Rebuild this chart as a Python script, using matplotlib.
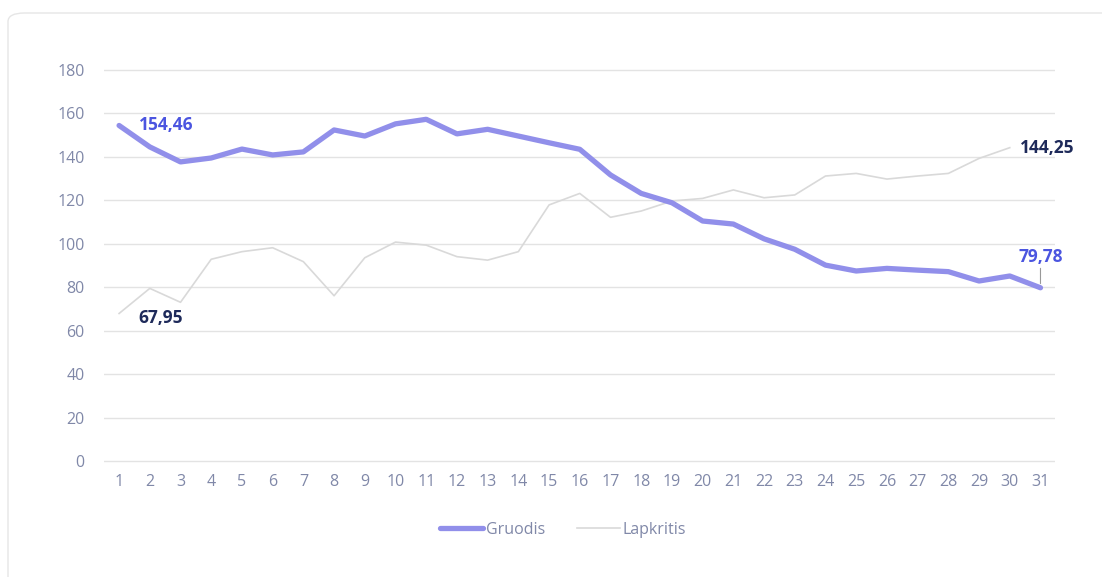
import matplotlib.pyplot as plt
from matplotlib.patches import FancyBboxPatch

plt.rcParams['font.family'] = ['Open Sans', 'DejaVu Sans']

dienos = list(range(1, 32))
gruodis = [154.46, 144.6, 137.7, 139.5, 143.6, 140.9, 142.3, 152.4, 149.6, 155.2,
           157.3, 150.6, 152.7, 149.6, 146.5, 143.5, 131.7, 123.2, 118.9, 110.5,
           109.1, 102.3, 97.5, 90.2, 87.5, 88.7, 87.9, 87.2, 82.9, 85.2, 79.78]
lapkritis = [67.95, 79.5, 73.1, 92.9, 96.4, 98.2, 91.8, 76.1, 93.6, 100.8,
             99.4, 94.1, 92.5, 96.4, 117.9, 123.2, 112.2, 115.1, 119.7, 120.9,
             124.8, 121.2, 122.5, 131.2, 132.4, 129.8, 131.2, 132.4, 139.3, 144.25]
y_ticks = [0, 20, 40, 60, 80, 100, 120, 140, 160, 180]

c_gruodis = '#918fea'
c_lapkritis = '#d9d9d9'
c_blue = '#4b55e0'
c_navy = '#1e2a5a'
c_tick = '#8088a8'

fig = plt.figure(figsize=(11.02, 5.77), dpi=100)

# kortelės rėmelis
card = FancyBboxPatch((8 / 1102, -0.1), 1.2, (577 - 13) / 577 + 0.1,
                      boxstyle='round,pad=0,rounding_size=0.015',
                      transform=fig.transFigure, facecolor='white',
                      edgecolor='#e6e6e6', linewidth=1.0, zorder=-10)
fig.patches.append(card)

ax = fig.add_axes([0.0944, 0.197, 0.8626, 0.6855])
ax.set_facecolor('none')

ax.plot(dienos[:len(lapkritis)], lapkritis, color=c_lapkritis, lw=1.2,
        label='Lapkritis', zorder=2)
ax.plot(dienos, gruodis, color=c_gruodis, lw=3.8, label='Gruodis',
        solid_capstyle='round', solid_joinstyle='round', zorder=3)

ax.set_xlim(0.51, 31.46)
ax.set_ylim(-1, 181)
ax.set_yticks(y_ticks)
ax.set_xticks(dienos)
ax.grid(axis='y', color='#e3e3e3', lw=1.0)
ax.set_axisbelow(True)
for s in ax.spines.values():
    s.set_visible(False)
ax.tick_params(length=0, colors=c_tick, labelsize=11.5)
ax.tick_params(axis='y', pad=14)
ax.tick_params(axis='x', pad=8)

bold = dict(fontsize=12.5, fontweight='bold')
ax.annotate('154,46', (dienos[0], gruodis[0]), xytext=(14, 0),
            textcoords='offset points', color=c_blue, va='center', ha='left', **bold)
ax.annotate('67,95', (dienos[0], lapkritis[0]), xytext=(14, -3),
            textcoords='offset points', color=c_navy, va='center', ha='left', **bold)
ax.annotate('144,25', (dienos[len(lapkritis) - 1], lapkritis[-1]), xytext=(7, 0),
            textcoords='offset points', color=c_navy, va='center', ha='left', **bold)
ax.annotate('79,78', (dienos[-1], gruodis[-1]), xytext=(0, 16),
            textcoords='offset points', color=c_blue, va='bottom', ha='center',
            arrowprops=dict(arrowstyle='-', color='#999999', lw=0.8,
                            shrinkA=0, shrinkB=3), **bold)

h, l = ax.get_legend_handles_labels()
fig.legend(h[::-1], l[::-1], loc='center', bbox_to_anchor=(563 / 1102, 1 - 530 / 577),
           ncol=2, frameon=False, fontsize=11.5, labelcolor=c_tick,
           handlelength=2.7, handletextpad=0.15, columnspacing=2.0)

fig.savefig('out.png', dpi=100)
